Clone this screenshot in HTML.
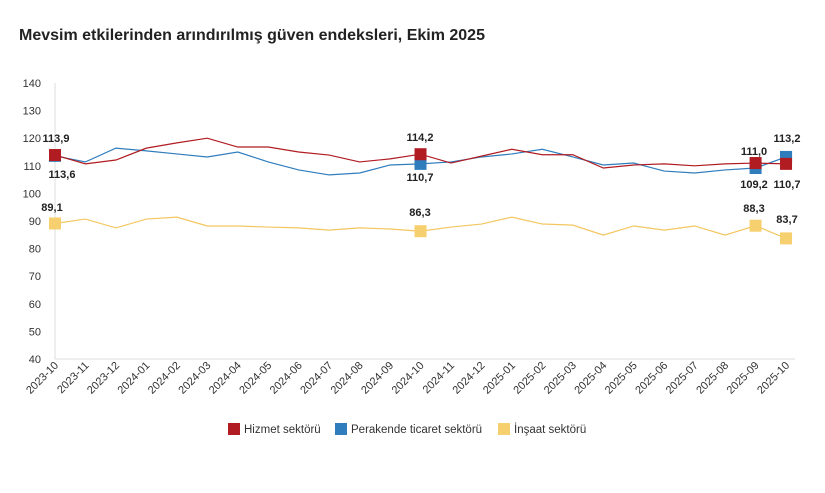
<!DOCTYPE html>
<html><head><meta charset="utf-8"><style>
body{margin:0;background:#fff;width:825px;height:488px;overflow:hidden;font-family:"Liberation Sans",sans-serif}
</style></head><body>
<svg id="c" width="825" height="488" xmlns="http://www.w3.org/2000/svg" font-family="Liberation Sans, sans-serif"></svg>
<script>
const s=document.getElementById('c');
let h='';
h+='<text x="19" y="40" font-size="16" font-weight="bold" fill="#222">Mevsim etkilerinden arındırılmış güven endeksleri, Ekim 2025</text>';
const Y=v=>359-(v-40)*2.76, X=i=>55+i*30.46;
for(let v=40;v<=140;v+=10){h+=`<text x="41" y="${Y(v)+4}" font-size="11" fill="#333" text-anchor="end">${v}</text>`;}
h+=`<line x1="55" y1="${Y(140)}" x2="55" y2="359" stroke="#ddd"/><line x1="55" y1="359" x2="795" y2="359" stroke="#ddd"/>`;
const lab=[];for(let i=0;i<25;i++){let m=(9+i)%12+1,y=2023+Math.floor((9+i)/12);lab.push(y+'-'+String(m).padStart(2,'0'));}
lab.forEach((l,i)=>{h+=`<text transform="translate(${X(i)+4},366) rotate(-45)" font-size="11" fill="#333" text-anchor="end">${l}</text>`;});
const R=[113.9,110.7,112.1,116.4,118.3,120,116.8,116.8,115,113.9,111.4,112.5,114.2,111,113.5,116,114,114,109.2,110.3,110.7,110,110.7,111.0,110.7];
const B=[113.6,111.4,116.4,115.4,114.3,113.2,115,111.4,108.5,106.7,107.4,110.3,110.7,111.4,113.2,114.3,116,113.2,110.3,111,108.1,107.4,108.5,109.2,113.2];
const G=[89.1,90.7,87.5,90.7,91.4,88.2,88.2,87.8,87.5,86.7,87.5,87.1,86.3,87.8,88.9,91.4,88.9,88.5,84.9,88.2,86.7,88.2,84.9,88.3,83.7];
const line=(d,c)=>{h+=`<polyline fill="none" stroke="${c}" stroke-width="1.2" points="${d.map((v,i)=>X(i)+','+Y(v)).join(' ')}"/>`;};
line(G,'#f3c660');line(B,'#2f7dbd');line(R,'#b01c22');
const mk=(i,v,c)=>{h+=`<rect x="${X(i)-6}" y="${Y(v)-6}" width="12" height="12" fill="${c}"/>`;};
[0,12,23,24].forEach(i=>{mk(i,G[i],'#f6cf6f');mk(i,B[i],'#2f7dbd');});
[0,12,23].forEach(i=>mk(i,R[i],'#b01c22'));
mk(24,B[24],'#2f7dbd');mk(24,R[24],'#b01c22');
const t=(x,y,s)=>{h+=`<text x="${x}" y="${y}" font-size="11" font-weight="bold" fill="#222" text-anchor="middle">${s}</text>`;};
t(56,142,'113,9');t(62,178,'113,6');t(52,211,'89,1');
t(420,141,'114,2');t(420,181,'110,7');t(420,216,'86,3');
t(754,155,'111,0');t(754,188,'109,2');t(754,212,'88,3');
t(787,142,'113,2');t(787,188,'110,7');t(787,223,'83,7');
const lg=[[228,'#b01c22','Hizmet sektörü'],[335,'#2f7dbd','Perakende ticaret sektörü'],[498,'#f6cf6f','İnşaat sektörü']];
lg.forEach(([x,c,s])=>{h+=`<rect x="${x}" y="423" width="12" height="12" fill="${c}"/><text x="${x+16}" y="433" font-size="11.5" fill="#333">${s}</text>`;});
s.innerHTML=h;
</script>
</body></html>
